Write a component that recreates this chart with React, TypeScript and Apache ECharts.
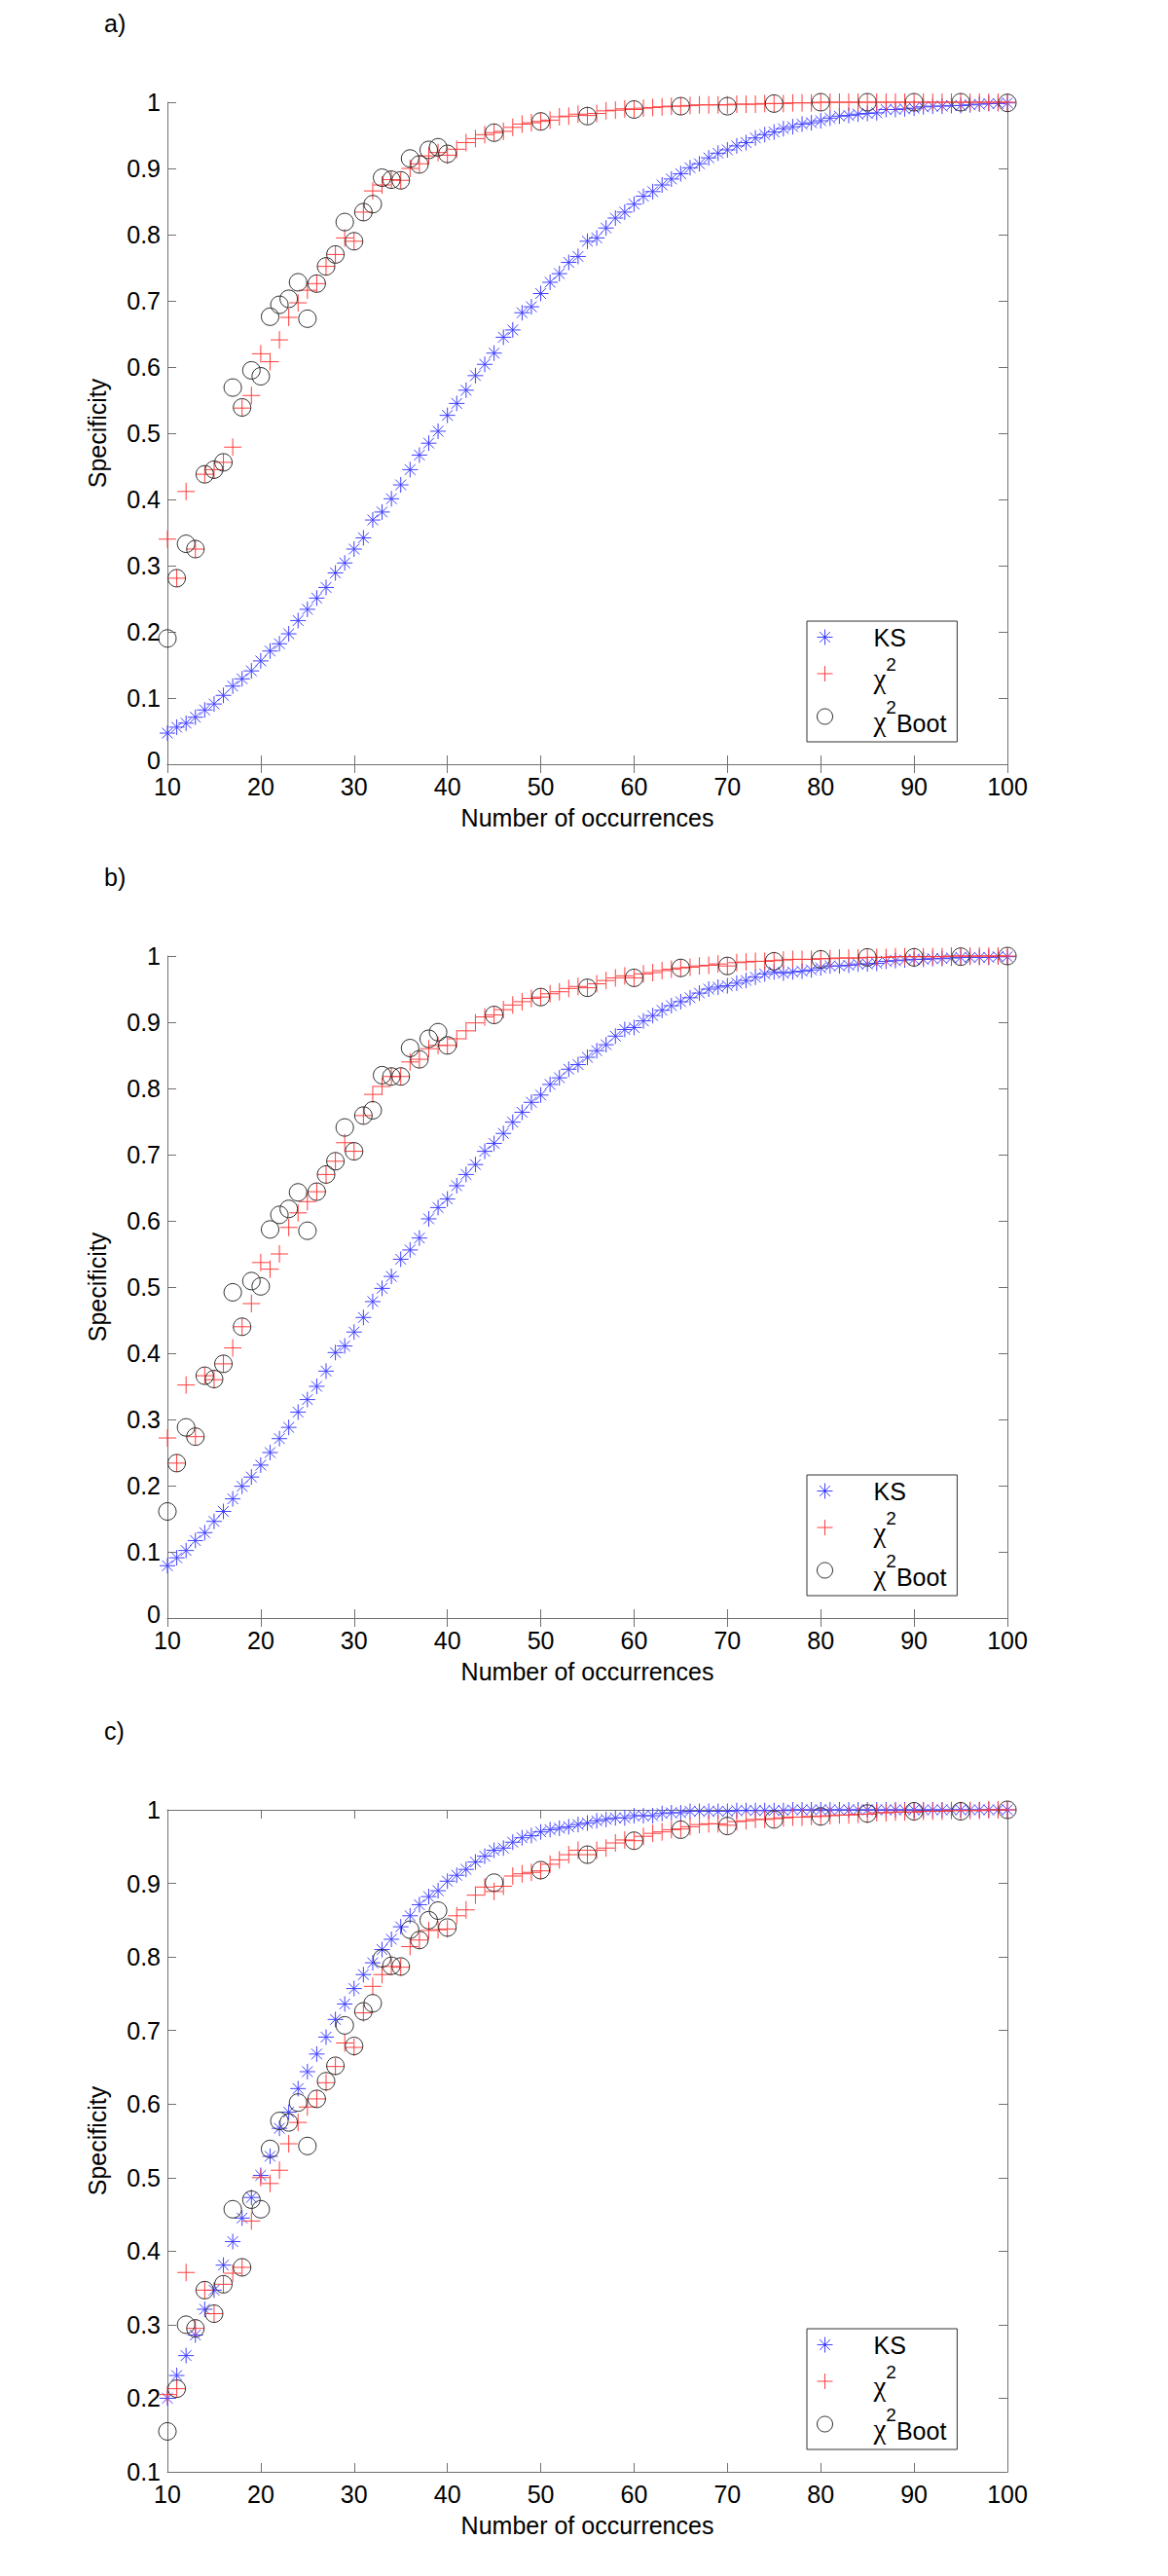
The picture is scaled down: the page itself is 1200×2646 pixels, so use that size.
import React, { useEffect, useRef } from "react";
import * as echarts from "echarts";

// ---------- data ----------
const OCC = [10,11,12,13,14,15,16,17,18,19,20,21,22,23,24,25,26,27,28,29,30,31,32,33,34,35,36,37,38,39,40,41,42,43,44,45,46,47,48,49,50,51,52,53,54,55,56,57,58,59,60,61,62,63,64,65,66,67,68,69,70,71,72,73,74,75,76,77,78,79,80,81,82,83,84,85,86,87,88,89,90,91,92,93,94,95,96,97,98,99,100];
const OCC_BOOT = [10,11,12,13,14,15,16,17,18,19,20,21,22,23,24,25,26,27,28,29,30,31,32,33,34,35,36,37,38,39,40,45,50,55,60,65,70,75,80,85,90,95,100];

const X_TICKS = { min: 10, max: 100, interval: 10 };
const Y_MINS = [0, 0, 0.1];
const PANEL_LABELS = ["a)", "b)", "c)"];
const SERIES_NAMES = ["KS", "χ2", "χ2Boot"];

// panel a
const A_KS = [0.047,0.056,0.062,0.071,0.082,0.091,0.104,0.118,0.129,0.141,0.156,0.171,0.182,0.197,0.217,0.234,0.251,0.267,0.289,0.304,0.325,0.342,0.369,0.381,0.401,0.422,0.445,0.467,0.485,0.503,0.527,0.545,0.565,0.587,0.604,0.621,0.645,0.656,0.682,0.691,0.711,0.728,0.741,0.758,0.767,0.790,0.795,0.810,0.825,0.834,0.846,0.858,0.865,0.875,0.884,0.892,0.901,0.907,0.916,0.923,0.928,0.934,0.939,0.946,0.951,0.955,0.960,0.963,0.967,0.969,0.972,0.976,0.979,0.980,0.982,0.983,0.984,0.989,0.989,0.990,0.991,0.993,0.994,0.994,0.995,0.995,0.996,0.997,0.998,0.998,0.999];
const A_CHI = [0.340,0.281,0.412,0.325,0.438,0.445,0.456,0.479,0.538,0.557,0.620,0.608,0.641,0.675,0.697,0.716,0.726,0.752,0.770,0.795,0.790,0.834,0.866,0.875,0.883,0.882,0.900,0.907,0.919,0.924,0.920,0.929,0.939,0.945,0.951,0.954,0.956,0.962,0.967,0.969,0.971,0.973,0.978,0.979,0.982,0.980,0.983,0.987,0.988,0.990,0.989,0.991,0.992,0.993,0.994,0.994,0.995,0.996,0.996,0.996,0.996,0.997,0.997,0.997,0.998,0.998,0.998,0.999,0.999,0.999,1.0,1.0,1.0,1.0,1.0,1.0,1.0,1.0,1.0,1.0,1.0,1.0,1.0,1.0,1.0,1.0,1.0,1.0,1.0,1.0,1.0];
const A_BOOT = [0.190,0.281,0.333,0.325,0.438,0.445,0.456,0.569,0.539,0.595,0.586,0.676,0.694,0.703,0.728,0.673,0.726,0.752,0.770,0.819,0.790,0.834,0.846,0.886,0.883,0.882,0.915,0.906,0.928,0.932,0.922,0.954,0.971,0.979,0.989,0.994,0.994,0.998,1.0,1.0,1.0,1.0,0.999];

// panel b
const B_KS = [0.079,0.091,0.102,0.117,0.129,0.146,0.161,0.180,0.199,0.213,0.231,0.250,0.271,0.288,0.311,0.330,0.350,0.373,0.401,0.411,0.432,0.454,0.478,0.498,0.516,0.542,0.556,0.574,0.603,0.620,0.633,0.653,0.670,0.685,0.705,0.717,0.732,0.749,0.764,0.779,0.790,0.806,0.816,0.829,0.836,0.847,0.857,0.866,0.879,0.889,0.892,0.902,0.910,0.918,0.925,0.931,0.937,0.944,0.950,0.953,0.955,0.959,0.963,0.968,0.973,0.976,0.974,0.976,0.977,0.979,0.982,0.985,0.985,0.986,0.988,0.988,0.989,0.992,0.993,0.994,0.995,0.995,0.996,0.996,0.997,0.998,0.998,0.998,0.998,0.999,0.999];
const B_CHI = [0.272,0.234,0.352,0.274,0.366,0.360,0.384,0.408,0.440,0.475,0.537,0.527,0.550,0.590,0.612,0.629,0.644,0.670,0.690,0.718,0.705,0.759,0.791,0.803,0.818,0.818,0.840,0.844,0.860,0.865,0.865,0.875,0.887,0.899,0.908,0.911,0.919,0.926,0.931,0.936,0.938,0.943,0.946,0.951,0.954,0.952,0.958,0.963,0.967,0.970,0.967,0.973,0.975,0.978,0.980,0.982,0.983,0.985,0.986,0.988,0.985,0.990,0.991,0.992,0.992,0.993,0.994,0.995,0.995,0.995,0.996,0.996,0.997,0.997,0.997,0.998,0.998,0.998,0.999,0.999,0.999,0.999,0.999,0.999,1.0,1.0,1.0,1.0,1.0,1.0,1.0];
const B_BOOT = [0.161,0.234,0.288,0.274,0.366,0.361,0.384,0.492,0.440,0.509,0.501,0.587,0.609,0.618,0.643,0.585,0.644,0.670,0.690,0.741,0.705,0.759,0.767,0.820,0.818,0.818,0.861,0.844,0.875,0.885,0.865,0.911,0.938,0.952,0.967,0.982,0.985,0.992,0.995,0.998,0.998,0.999,1.0];

// panel c
const C_KS = [0.200,0.231,0.258,0.286,0.321,0.347,0.381,0.413,0.445,0.473,0.503,0.529,0.567,0.589,0.621,0.644,0.668,0.691,0.715,0.736,0.757,0.776,0.792,0.810,0.824,0.841,0.856,0.871,0.882,0.890,0.903,0.911,0.919,0.929,0.937,0.945,0.948,0.956,0.962,0.965,0.970,0.973,0.975,0.977,0.980,0.982,0.985,0.987,0.989,0.989,0.992,0.992,0.992,0.995,0.996,0.996,0.998,0.998,0.998,0.998,0.998,0.999,0.999,0.999,0.999,0.999,0.999,1.0,1.0,1.0,1.0,1.0,1.0,1.0,1.0,1.0,1.0,1.0,1.0,1.0,1.0,1.0,1.0,1.0,1.0,1.0,1.0,1.0,1.0,1.0,1.0];
const C_CHI = [0.205,0.213,0.371,0.295,0.347,0.315,0.355,0.370,0.378,0.441,0.500,0.492,0.510,0.546,0.575,0.596,0.607,0.629,0.651,0.683,0.677,0.724,0.760,0.776,0.787,0.786,0.814,0.823,0.836,0.837,0.838,0.856,0.864,0.884,0.895,0.889,0.896,0.910,0.913,0.915,0.917,0.926,0.932,0.939,0.945,0.939,0.945,0.948,0.955,0.959,0.958,0.964,0.968,0.970,0.973,0.974,0.977,0.980,0.981,0.981,0.979,0.984,0.985,0.987,0.987,0.988,0.989,0.990,0.990,0.991,0.991,0.992,0.993,0.993,0.994,0.994,0.996,0.996,0.997,0.997,0.997,0.998,0.998,0.998,0.999,0.999,0.999,0.999,1.0,1.0,1.0];
const C_BOOT = [0.155,0.213,0.300,0.295,0.347,0.315,0.355,0.457,0.378,0.470,0.457,0.539,0.577,0.575,0.602,0.543,0.607,0.631,0.652,0.707,0.679,0.726,0.737,0.798,0.788,0.787,0.837,0.823,0.850,0.863,0.840,0.901,0.918,0.939,0.958,0.973,0.978,0.987,0.991,0.995,0.998,0.998,1.0];

const PANELS = [
  { ks: A_KS, chi: A_CHI, boot: A_BOOT },
  { ks: B_KS, chi: B_CHI, boot: B_BOOT },
  { ks: C_KS, chi: C_CHI, boot: C_BOOT },
];

// ---------- styling / layout ----------
const FONT = "Liberation Sans, Arial, sans-serif";
const AXIS_COLOR = "#707070";
const KS_COLOR = "#4040ff";
const CHI_COLOR = "#ff3c3c";
const BOOT_COLOR = "#2e2e2e";
const STAR = "path://M0,5L10,5M5,0L5,10M1.6,1.6L8.4,8.4M1.6,8.4L8.4,1.6";
const PLUS = "path://M0,5L10,5M5,0L5,10";

const GRID_LEFT = 172;
const GRID_W = 863;
const GRID_H = 680;
const GRID_TOPS = [105, 982, 1859];

const LEGEND_RICH: Record<string, string> = {
  "KS": "{t|KS}",
  "χ2": "{chi|χ}{sup|2}",
  "χ2Boot": "{chi|χ}{sup|2}{b|Boot}",
};

// y tick labels; the bottom-most "0" is nudged up a little so it clears "10"
function fmtY(v: number) {
  const s = String(parseFloat(v.toFixed(2)));
  return s === "0" ? "{z|0}" : s;
}

function buildOption() {
  const grid: any[] = [];
  const xAxis: any[] = [];
  const yAxis: any[] = [];
  const series: any[] = [];
  const legend: any[] = [];
  const graphic: any[] = [];

  PANELS.forEach((p, i) => {
    const top = GRID_TOPS[i];
    grid.push({ left: GRID_LEFT, top, width: GRID_W, height: GRID_H, containLabel: false });

    const axisLine = { show: true, lineStyle: { color: AXIS_COLOR, width: 1 } };
    const tick = { show: true, inside: true, length: 9, lineStyle: { color: AXIS_COLOR, width: 1 } };

    xAxis.push({
      type: "value", gridIndex: i, position: "bottom",
      min: X_TICKS.min, max: X_TICKS.max, interval: X_TICKS.interval,
      axisLine, axisTick: tick, splitLine: { show: false },
      axisLabel: { color: "#000", fontSize: 25, lineHeight: 18, fontFamily: FONT, margin: 14 },
      name: "Number of occurrences", nameLocation: "middle", nameGap: 42,
      nameTextStyle: { color: "#000", fontSize: 25, fontFamily: FONT },
    });
    xAxis.push({
      type: "value", gridIndex: i, position: "top",
      min: X_TICKS.min, max: X_TICKS.max, interval: X_TICKS.interval,
      axisLine, axisTick: tick, splitLine: { show: false },
      axisLabel: { show: false },
    });
    yAxis.push({
      type: "value", gridIndex: i, position: "left",
      min: Y_MINS[i], max: 1, interval: 0.1,
      axisLine, axisTick: tick, splitLine: { show: false },
      axisLabel: {
        color: "#000", fontSize: 25, lineHeight: 18, fontFamily: FONT, margin: 7, formatter: fmtY,
        rich: { z: { fontSize: 25, lineHeight: 18, fontFamily: FONT, color: "#000", padding: [0, 0, 8, 0] } },
      },
      name: "Specificity", nameLocation: "middle", nameGap: 60,
      nameTextStyle: { color: "#000", fontSize: 25, fontFamily: FONT },
    });
    yAxis.push({
      type: "value", gridIndex: i, position: "right",
      min: Y_MINS[i], max: 1, interval: 0.1,
      axisLine, axisTick: tick, splitLine: { show: false },
      axisLabel: { show: false },
    });

    const common = {
      type: "scatter", xAxisIndex: 2 * i, yAxisIndex: 2 * i,
      silent: true, clip: false, emphasis: { disabled: true },
    };
    series.push({
      ...common, name: SERIES_NAMES[0],
      data: OCC.map((x, k) => [x, p.ks[k]]),
      symbol: STAR, symbolSize: 16,
      itemStyle: { color: "transparent", borderColor: KS_COLOR, borderWidth: 1, opacity: 1 },
    });
    series.push({
      ...common, name: SERIES_NAMES[1],
      data: OCC.map((x, k) => [x, p.chi[k]]),
      symbol: PLUS, symbolSize: 18,
      itemStyle: { color: "transparent", borderColor: CHI_COLOR, borderWidth: 1, opacity: 1 },
    });
    series.push({
      ...common, name: SERIES_NAMES[2],
      data: OCC_BOOT.map((x, k) => [x, p.boot[k]]),
      symbol: "circle", symbolSize: 18,
      itemStyle: { color: "transparent", borderColor: BOOT_COLOR, borderWidth: 1, opacity: 1 },
    });

    legend.push({
      orient: "vertical",
      left: 829, top: top + GRID_H - 147,
      padding: [4, 11, 7, 10],
      itemGap: 6, itemWidth: 90, itemHeight: 16,
      backgroundColor: "#fff", borderColor: "#333", borderWidth: 1, borderRadius: 0,
      selectedMode: false, symbolKeepAspect: true,
      data: [
        { name: SERIES_NAMES[0], icon: STAR, itemStyle: { color: "transparent", borderColor: KS_COLOR, borderWidth: 1 } },
        { name: SERIES_NAMES[1], icon: PLUS, itemStyle: { color: "transparent", borderColor: CHI_COLOR, borderWidth: 1 } },
        { name: SERIES_NAMES[2], icon: "circle", itemStyle: { color: "transparent", borderColor: BOOT_COLOR, borderWidth: 1 } },
      ],
      formatter: (name: string) => LEGEND_RICH[name] || name,
      textStyle: {
        color: "#000", fontSize: 25, fontFamily: FONT,
        rich: {
          t: { fontSize: 25, fontFamily: FONT, lineHeight: 38, verticalAlign: "middle", color: "#000" },
          chi: { fontSize: 29, fontFamily: "Liberation Serif, DejaVu Serif, serif", lineHeight: 38, verticalAlign: "bottom", color: "#000" },
          sup: { fontSize: 19, fontFamily: FONT, lineHeight: 38, verticalAlign: "top", color: "#000" },
          b: { fontSize: 25, fontFamily: FONT, lineHeight: 38, verticalAlign: "bottom", color: "#000" },
        },
      },
    });

    graphic.push({
      type: "text", left: 107, top: top - 94,
      style: { text: PANEL_LABELS[i], font: `25px ${FONT}`, fill: "#000" },
    });
  });

  return { animation: false, backgroundColor: "#fff", grid, xAxis, yAxis, series, legend, graphic };
}

export default function App() {
  const ref = useRef<HTMLDivElement>(null);
  useEffect(() => {
    document.body.style.margin = "0";
    if (!ref.current) return;
    const chart = echarts.init(ref.current, undefined, { renderer: "svg" });
    chart.setOption(buildOption() as any);
    return () => chart.dispose();
  }, []);
  return <div ref={ref} style={{ width: 1200, height: 2646 }} />;
}
